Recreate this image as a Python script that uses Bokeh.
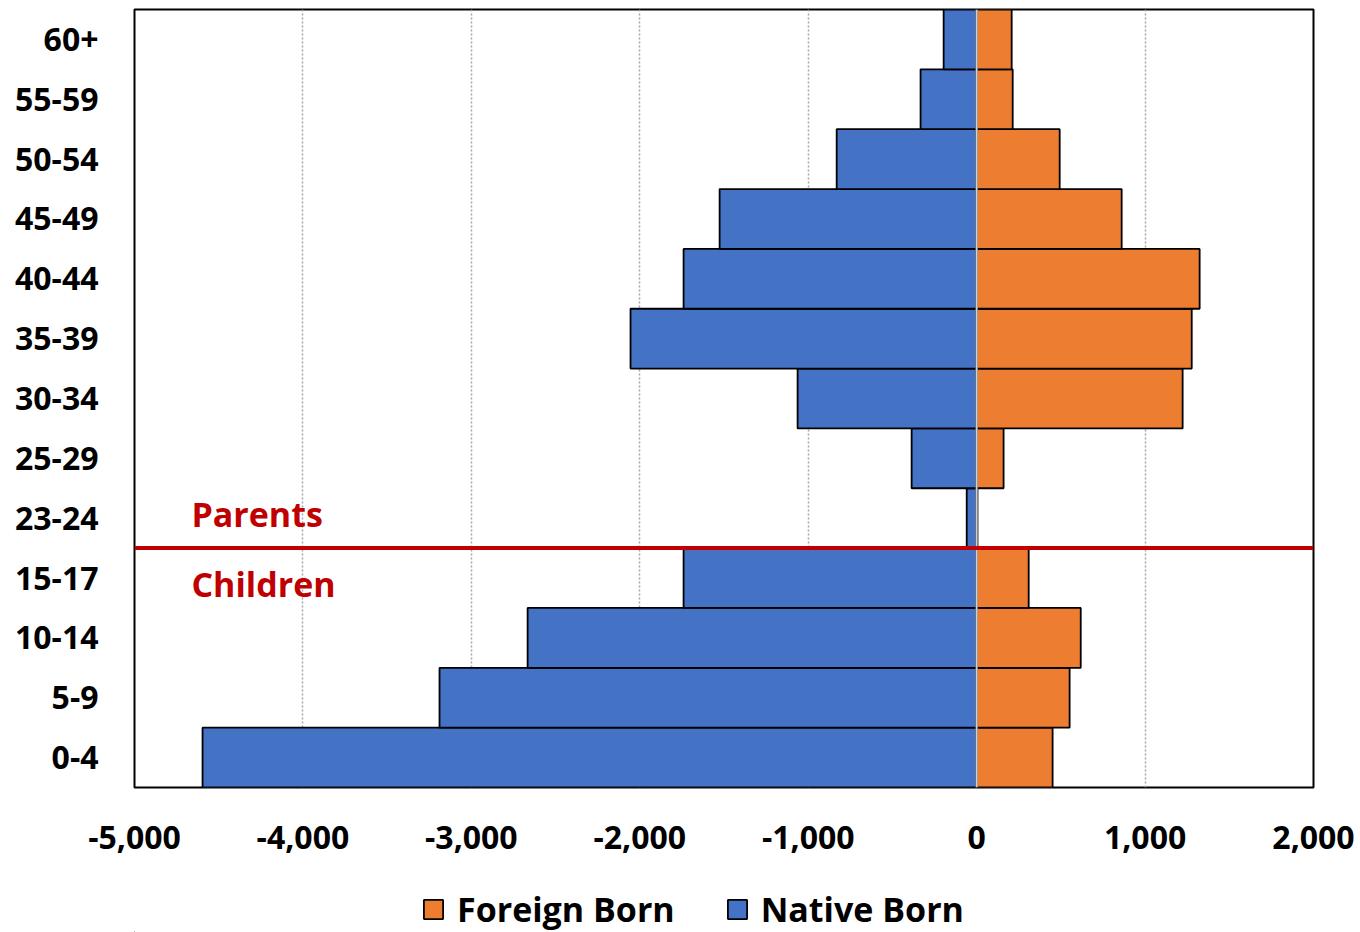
from bokeh.plotting import figure
from bokeh.layouts import column
from bokeh.models import (ColumnDataSource, FactorRange, Range1d, FixedTicker, NumeralTickFormatter,
                          Span, Label, Legend, LegendItem)
from bokeh.embed import file_html
from bokeh.resources import INLINE

ages = ["0-4", "5-9", "10-14", "15-17", "23-24", "25-29", "30-34", "35-39",
        "40-44", "45-49", "50-54", "55-59", "60+"]
native_born = [-4596, -3189, -2666, -1740, -59, -386, -1063, -2055,
               -1740, -1526, -831, -333, -196]
foreign_born = [451, 552, 618, 309, 5, 160, 1223, 1277,
                1324, 861, 493, 214, 208]
x_ticks = [-5000, -4000, -3000, -2000, -1000, 0, 1000, 2000]
split_after = "15-17"

FONT = "Open Sans"
BLUE = "#4472C4"
ORANGE = "#ED7D31"
RED = "#C00000"

src = ColumnDataSource(dict(age=ages, native=native_born, foreign=foreign_born))

p = figure(width=1360, height=867, y_range=FactorRange(*ages), x_range=Range1d(-5000, 2000),
           output_backend="svg", toolbar_location=None,
           min_border_left=134, min_border_right=47, min_border_top=9, min_border_bottom=80)

p.outline_line_color = "black"
p.outline_line_width = 2
p.ygrid.grid_line_color = None
p.xgrid.ticker = FixedTicker(ticks=x_ticks)
p.xgrid.grid_line_color = "#a6a6a6"
p.xgrid.grid_line_dash = "2 2"
p.xgrid.grid_line_width = 1.5

rn = p.hbar(y="age", left=0, right="native", height=1.0, source=src,
            fill_color=BLUE, line_color="black", line_width=1.8)
rf = p.hbar(y="age", left=0, right="foreign", height=1.0, source=src,
            fill_color=ORANGE, line_color="black", line_width=1.8)

p.add_layout(Span(location=0, dimension="height", line_color="#d0d0d0", line_width=2, level="overlay"))

split_y = ages.index(split_after) + 1.0
p.add_layout(Span(location=split_y, dimension="width", line_color=RED, line_width=4, level="overlay"))

for txt, off in [("Parents", 34), ("Children", -36)]:
    p.add_layout(Label(x=-4662, y=split_y, y_offset=off, text=txt, text_color=RED,
                       text_font=FONT, text_font_style="bold", text_font_size="34px",
                       text_baseline="middle", text_align="left"))

xa = p.xaxis[0]
xa.ticker = FixedTicker(ticks=x_ticks)
xa.formatter = NumeralTickFormatter(format="0,0")
xa.axis_line_color = None
xa.major_tick_line_color = None
xa.minor_tick_line_color = None
xa.major_label_text_font = FONT
xa.major_label_text_font_style = "bold"
xa.major_label_text_font_size = "32px"
xa.major_label_text_color = "black"
xa.major_label_standoff = 32

ya = p.yaxis[0]
ya.axis_line_color = None
ya.major_tick_line_color = None
ya.minor_tick_line_color = None
ya.major_label_text_font = FONT
ya.major_label_text_font_style = "bold"
ya.major_label_text_font_size = "32px"
ya.major_label_text_color = "black"
ya.major_label_standoff = 30

# legend strip below the chart (its frame is aligned with the chart's frame by the column)
lg = figure(width=1360, height=65, x_range=Range1d(0, 1), y_range=Range1d(0, 1),
            output_backend="svg", toolbar_location=None,
            min_border_left=0, min_border_right=0, min_border_top=0, min_border_bottom=0)
lg.axis.visible = False
lg.grid.visible = False
lg.outline_line_color = None
lg.border_fill_color = "white"
lg.background_fill_color = "white"
# legend-only swatch renderers, kept outside the visible range of the strip
swatch = ColumnDataSource(dict(y=[-10], l=[-10], r=[-9]))
lf = lg.hbar(y="y", left="l", right="r", height=1, source=swatch,
             fill_color=ORANGE, line_color="black", line_width=1.8)
ln = lg.hbar(y="y", left="l", right="r", height=1, source=swatch,
             fill_color=BLUE, line_color="black", line_width=1.8)
legend = Legend(items=[LegendItem(label="Foreign Born", renderers=[lf]),
                       LegendItem(label="Native Born", renderers=[ln])],
                orientation="horizontal", location=(287, 0),
                label_text_font=FONT, label_text_font_style="bold", label_text_font_size="34px",
                label_text_color="black", label_text_baseline="middle",
                glyph_width=24, glyph_height=24, spacing=50, label_standoff=12,
                border_line_color=None, background_fill_alpha=0, margin=0, padding=0)
lg.add_layout(legend, "center")

layout = column(p, lg, spacing=0)
open("out.html", "w").write(file_html(layout, INLINE))
